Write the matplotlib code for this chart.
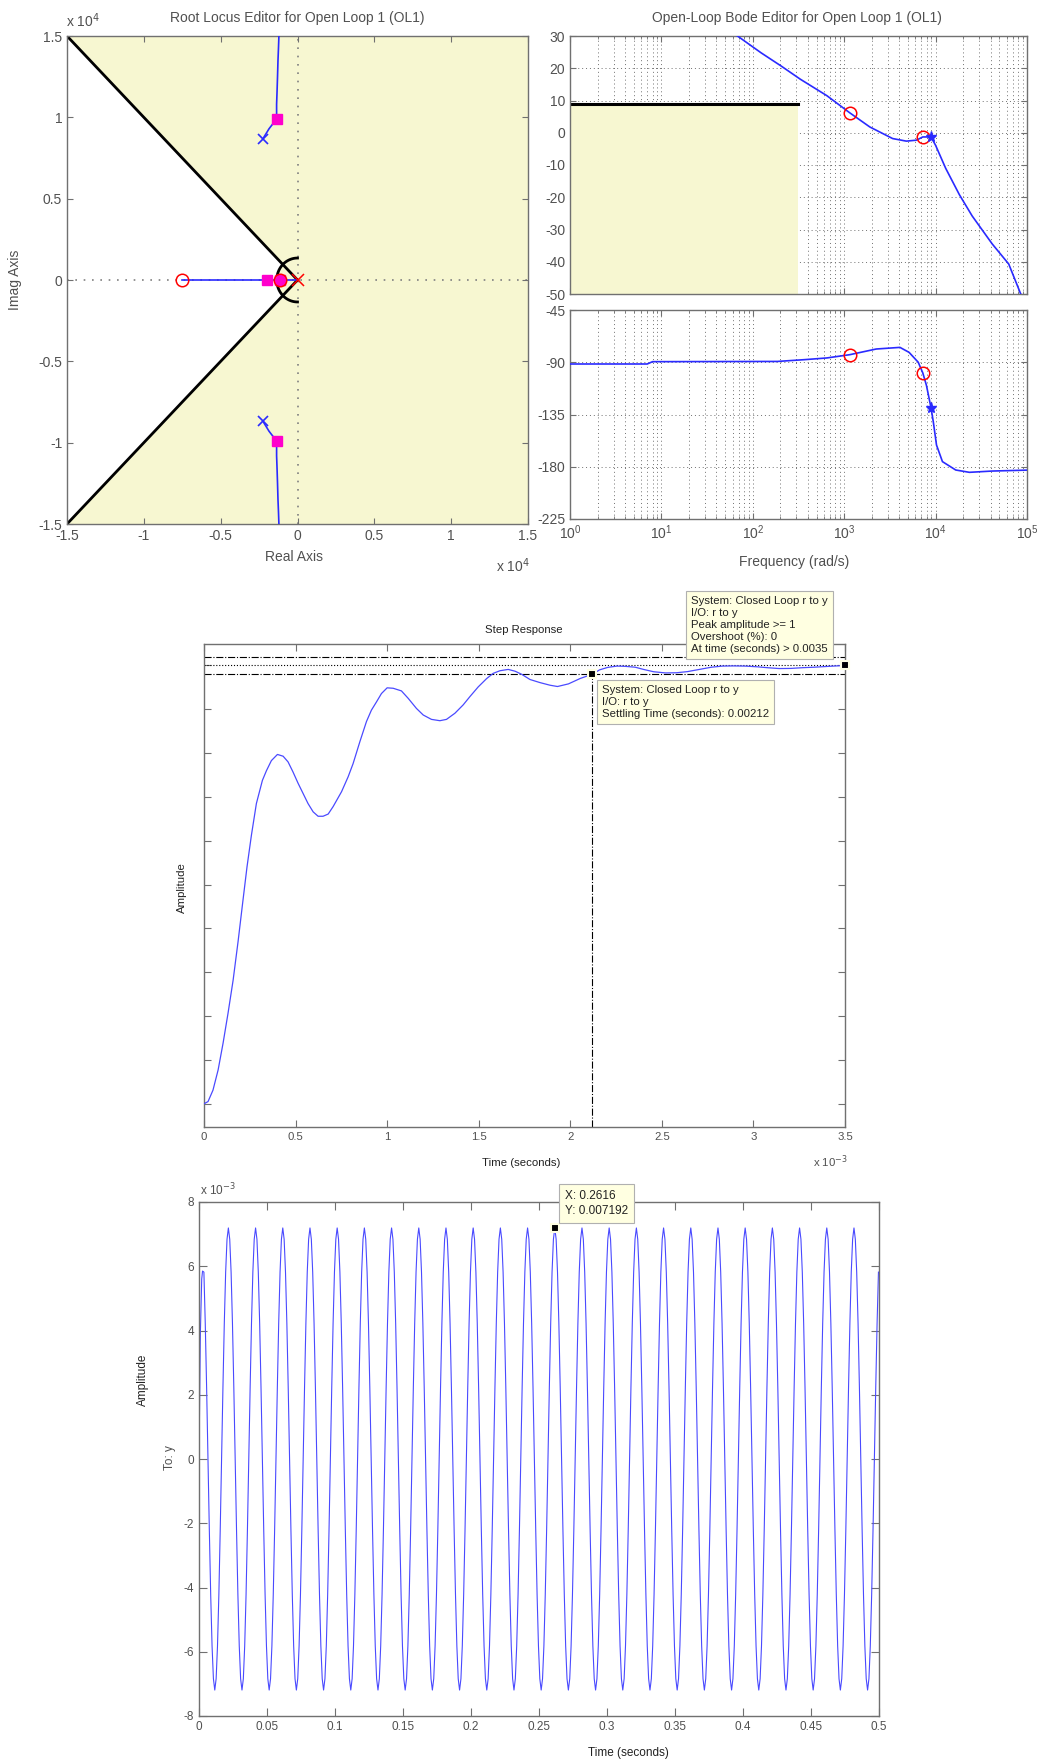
import matplotlib.pyplot as plt
import numpy as np
from matplotlib.patches import Polygon

# ---------------- data ----------------
# root locus (units of 1e4)
rl_branch_up_x = [-0.226, -0.185, -0.136, -0.136, -0.133, -0.130, -0.127, -0.124, -0.121]
rl_branch_up_y = [0.867, 0.930, 0.990, 1.080, 1.160, 1.250, 1.350, 1.420, 1.500]
rl_real_branch = [-0.75, 0.0]
rl_ol_zeros = [-0.75, -0.115]
rl_ol_pole_red = [0.0]
rl_plant_poles_x = [-0.226, -0.226]
rl_plant_poles_y = [0.867, -0.867]
rl_cl_poles_x = [-0.20, -0.115, -0.136, -0.136]
rl_cl_poles_y = [0.0, 0.0, 0.990, -0.990]
rl_damping_deg = 45.0
rl_wn_radius = 0.135
rl_ticks = [-1.5, -1, -0.5, 0, 0.5, 1, 1.5]
rl_ticklabels = ['-1.5', '-1', '-0.5', '0', '0.5', '1', '1.5']

# open loop bode
mag_w = [60, 68, 123, 204, 331, 646, 1148, 1905, 3388, 4786, 6166, 7244, 8913, 10000,
         12880, 18200, 25120, 41690, 63100, 85100, 90000]
mag_db = [31.0, 30.0, 24.8, 20.7, 16.6, 11.5, 6.2, 1.8, -1.8, -2.6, -2.3, -1.3, -1.3, -3.9,
          -11.0, -19.2, -25.8, -34.5, -40.7, -49.9, -51.0]
phase_w = [1, 7, 8, 186, 363, 646, 1148, 2239, 4074, 5129, 6457, 7244, 7943, 8913, 9441,
           10230, 11885, 16600, 23440, 41690, 100000]
phase_deg = [-91.5, -91.5, -89.5, -89.3, -87.8, -86.3, -83.5, -78.6, -77.2, -81.5, -90.0,
             -99.2, -110.0, -129.3, -141.4, -161.3, -175.6, -182.8, -184.8, -183.7, -182.9]
comp_zero_w = [1148, 7244]
comp_zero_db = [6.2, -1.3]
comp_zero_deg = [-83.5, -99.2]
cl_pole_w = [8913]
cl_pole_db = [-1.3]
cl_pole_deg = [-129.3]
mag_bound_w = [1, 312]
mag_bound_db = 9.0

# closed loop step response (time in ms)
step_t = [0, 0.022, 0.049, 0.077, 0.104, 0.131, 0.159, 0.186, 0.213, 0.235, 0.259, 0.286,
          0.319, 0.341, 0.368, 0.401, 0.432, 0.459, 0.486, 0.514, 0.541, 0.568, 0.596, 0.623,
          0.650, 0.678, 0.705, 0.751, 0.787, 0.814, 0.851, 0.887, 0.914, 0.942, 0.969, 1.000,
          1.033, 1.078, 1.115, 1.160, 1.197, 1.242, 1.288, 1.324, 1.370, 1.415, 1.452, 1.497,
          1.543, 1.579, 1.616, 1.661, 1.698, 1.734, 1.780, 1.834, 1.889, 1.93, 1.99, 2.055,
          2.12, 2.16, 2.205, 2.255, 2.30, 2.355, 2.40, 2.455, 2.52, 2.58, 2.64, 2.705, 2.77,
          2.83, 2.89, 2.955, 3.02, 3.08, 3.14, 3.205, 3.27, 3.33, 3.41, 3.5]
step_y = [0, 0.005, 0.031, 0.077, 0.138, 0.206, 0.282, 0.370, 0.465, 0.541, 0.613, 0.685,
          0.738, 0.760, 0.783, 0.797, 0.793, 0.780, 0.757, 0.731, 0.708, 0.685, 0.666, 0.656,
          0.656, 0.661, 0.678, 0.712, 0.746, 0.776, 0.826, 0.872, 0.898, 0.917, 0.936, 0.949,
          0.948, 0.942, 0.925, 0.902, 0.887, 0.877, 0.874, 0.877, 0.891, 0.910, 0.929, 0.951,
          0.970, 0.982, 0.988, 0.991, 0.987, 0.980, 0.968, 0.961, 0.955, 0.952, 0.958, 0.9705,
          0.98, 0.990, 0.9957, 0.9986, 0.998, 0.996, 0.991, 0.9857, 0.983, 0.9834, 0.986, 0.991,
          0.996, 0.9986, 0.999, 0.9986, 0.997, 0.9948, 0.993, 0.9933, 0.995, 0.996, 0.998, 1.0]
settling_time = 0.00212
settling_band = [0.98, 1.02]
peak_time = 0.0035
final_value = 1.0

# disturbance output To: y (units of 1e-3), 1 ms samples
sine_start_t = [0.0, 0.001, 0.002, 0.0026]
sine_start_y = [0.0, 3.9, 5.6, 5.85]
sine_cycle = [7.192, 6.840, 5.818, 4.227, 2.222, 0.0, -2.222, -4.227, -5.818, -6.840,
              -7.192, -6.840, -5.818, -4.227, -2.222, 0.0, 2.222, 4.227, 5.818, 6.840]
sine_first_crest = 0.0016
sine_dt = 0.001
tip_x = 0.2616
tip_y = 0.007192

# ---------------- figure ----------------
plt.rcParams['font.family'] = ['Liberation Sans', 'DejaVu Sans']
plt.rcParams['axes.unicode_minus'] = False
plt.rcParams['xtick.direction'] = 'in'
plt.rcParams['ytick.direction'] = 'in'

W, H = 1047, 1762
fig = plt.figure(figsize=(W / 100, H / 100), dpi=100)

YELLOW = '#f7f7d1'
SPINE = '#707070'
TXT = '#505050'
BLUE = '#2a2aff'
TIPBG = '#ffffe1'


def box(l, t, r, b):
    return [l / W, 1 - b / H, (r - l) / W, (b - t) / H]


def ftext(x, y, s, **kw):
    return fig.text(x / W, 1 - y / H, s, **kw)


def style(ax, size, length):
    for sp in ax.spines.values():
        sp.set_color(SPINE)
        sp.set_linewidth(1.0)
    ax.tick_params(which='both', top=True, right=True, colors=SPINE, labelcolor=TXT,
                   labelsize=size)
    ax.tick_params(which='major', length=length)
    ax.tick_params(which='minor', length=length * 0.6)


# ---- root locus ----
ax = fig.add_axes(box(67, 36, 528, 524))
ax.set_facecolor(YELLOW)
ang = np.radians(rl_damping_deg)
a = np.linspace(np.pi - ang, np.pi + ang, 40)
wedge = [(-1.5, 1.5)] + list(zip(rl_wn_radius * np.cos(a), rl_wn_radius * np.sin(a))) + [(-1.5, -1.5)]
ax.add_patch(Polygon(wedge, closed=True, fc='white', ec='none', zorder=0.5))
ax.plot([-1.5, 0], [1.5, 0], color='k', lw=2, zorder=2)
ax.plot([-1.5, 0], [-1.5, 0], color='k', lw=2, zorder=2)
arc = np.linspace(np.pi / 2, 3 * np.pi / 2, 60)
ax.plot(rl_wn_radius * np.cos(arc), rl_wn_radius * np.sin(arc), color='k', lw=2, zorder=2)
ax.axhline(0, color='#808080', ls=(0, (1, 4)), lw=1.2, zorder=1)
ax.axvline(0, color='#808080', ls=(0, (1, 4)), lw=1.2, zorder=1)
ax.plot(rl_real_branch, [0, 0], color=BLUE, lw=1.2, zorder=3)
ax.plot(rl_branch_up_x, rl_branch_up_y, color=BLUE, lw=1.2, zorder=3)
ax.plot(rl_branch_up_x, [-v for v in rl_branch_up_y], color=BLUE, lw=1.2, zorder=3)
ax.plot(rl_plant_poles_x, rl_plant_poles_y, 'x', color=BLUE, ms=7, mew=1.2, zorder=4)
ax.plot(rl_cl_poles_x, rl_cl_poles_y, 's', color='#ff00cc', ms=7, zorder=5)
ax.plot(rl_ol_zeros, [0, 0], 'o', mfc='none', mec='red', ms=9, mew=1.1, zorder=6)
ax.plot(rl_ol_pole_red, [0], 'x', color='red', ms=9, mew=1.1, zorder=6)
ax.set_xlim(-1.5, 1.5)
ax.set_ylim(-1.5, 1.5)
ax.set_xticks(rl_ticks, rl_ticklabels)
ax.set_yticks(rl_ticks, rl_ticklabels)
style(ax, 10, 4)
ax.set_zorder(1)
ftext(297, 18, 'Root Locus Editor for Open Loop 1 (OL1)', ha='center', va='center',
      fontsize=10, color=TXT)
ftext(66, 21, 'x 10$^{4}$', ha='left', va='center', fontsize=10, color=TXT)
ftext(496, 566, 'x 10$^{4}$', ha='left', va='center', fontsize=10, color=TXT)
ftext(15, 280, 'Imag Axis', ha='center', va='center', rotation=90, fontsize=10, color=TXT)
ftext(294, 557, 'Real Axis', ha='center', va='center', fontsize=10, color=TXT)

# ---- bode magnitude ----
axm = fig.add_axes(box(570, 36, 1027, 294))
axm.set_xscale('log')
axm.set_axisbelow(True)
axm.fill_between(mag_bound_w, -50, mag_bound_db, color=YELLOW, lw=0, zorder=1)
axm.plot(mag_bound_w, [mag_bound_db] * 2, color='k', lw=2.2, zorder=2)
axm.plot(mag_w, mag_db, color=BLUE, lw=1.2, zorder=3)
axm.plot(comp_zero_w, comp_zero_db, 'o', mfc='none', mec='red', ms=9, mew=1.1, zorder=4)
axm.plot(cl_pole_w, cl_pole_db, '*', color=BLUE, ms=8, zorder=4)
axm.set_xlim(1, 1e5)
axm.set_ylim(-50, 30)
axm.set_yticks(range(-50, 31, 10))
axm.xaxis.grid(True, which='both', color='#707070', ls=(0, (1, 3)), lw=0.7)
axm.yaxis.grid(True, which='major', color='#707070', ls=(0, (1, 3)), lw=0.7)
axm.tick_params(labelbottom=False)
style(axm, 10, 4)
ftext(797, 18, 'Open-Loop Bode Editor for Open Loop 1 (OL1)', ha='center', va='center',
      fontsize=10, color=TXT)

# ---- bode phase ----
axp = fig.add_axes(box(570, 310, 1027, 519))
axp.set_xscale('log')
axp.plot(phase_w, phase_deg, color=BLUE, lw=1.2, zorder=3)
axp.plot(comp_zero_w, comp_zero_deg, 'o', mfc='none', mec='red', ms=9, mew=1.1, zorder=4)
axp.plot(cl_pole_w, cl_pole_deg, '*', color=BLUE, ms=8, zorder=4)
axp.set_xlim(1, 1e5)
axp.set_ylim(-225, -45)
axp.set_yticks(range(-225, -44, 45))
axp.set_axisbelow(True)
axp.xaxis.grid(True, which='both', color='#707070', ls=(0, (1, 3)), lw=0.7)
axp.yaxis.grid(True, which='major', color='#707070', ls=(0, (1, 3)), lw=0.7)
style(axp, 10, 4)
ftext(794, 562, 'Frequency (rad/s)', ha='center', va='center', fontsize=10, color=TXT)

# ---- step response ----
axs = fig.add_axes(box(204, 644, 845, 1127))
axs.plot(step_t, step_y, color='#4a4aff', lw=0.9, zorder=3)
for lvl in settling_band:
    axs.axhline(lvl, color='k', ls='-.', lw=0.8, zorder=2)
axs.axhline(final_value, color='k', ls=':', lw=0.8, zorder=2)
axs.plot([settling_time * 1e3] * 2, [-0.053, settling_band[0]], color='k', ls='-.', lw=0.8)
axs.plot([settling_time * 1e3], [settling_band[0]], 's', mfc='k', mec=TIPBG, ms=6, mew=1.5,
         zorder=5)
axs.plot([peak_time * 1e3], [final_value], 's', mfc='k', mec=TIPBG, ms=6, mew=1.5,
         zorder=5, clip_on=False)
axs.set_xlim(0, 3.5)
axs.set_ylim(-0.053, 1.049)
axs.set_xticks(np.arange(0, 3.51, 0.5), ['0', '0.5', '1', '1.5', '2', '2.5', '3', '3.5'])
axs.set_yticks(np.arange(0, 1.01, 0.1))
axs.tick_params(labelleft=False)
style(axs, 8.2, 5)
ftext(524, 630, 'Step Response', ha='center', va='center', fontsize=8.2, color='#222222')
ftext(521, 1163, 'Time (seconds)', ha='center', va='center', fontsize=8.2, color='#222222')
ftext(813, 1162, 'x 10$^{-3}$', ha='left', va='center', fontsize=8.2, color=TXT)
ftext(182, 888, 'Amplitude', ha='center', va='center', rotation=90, fontsize=8.2,
      color='#222222')
tip = dict(boxstyle='square,pad=0.45', fc=TIPBG, ec='#b0b0b0', lw=0.8)
ftext(691, 596, 'System: Closed Loop r to y\nI/O: r to y\nPeak amplitude >= 1\n'
      'Overshoot (%): 0\nAt time (seconds) > ' + str(peak_time),
      ha='left', va='top', fontsize=8.2, color='#222222', linespacing=1.26, bbox=tip)
ftext(602, 685, 'System: Closed Loop r to y\nI/O: r to y\nSettling Time (seconds): '
      + str(settling_time),
      ha='left', va='top', fontsize=8.2, color='#222222', linespacing=1.26, bbox=tip)

# ---- disturbance response ----
n_steady = int(round((0.5 - sine_start_t[-1]) / sine_dt))
steady_t = sine_first_crest + 2 * sine_dt + sine_dt * np.arange(n_steady)
steady_y = np.tile(sine_cycle, n_steady // len(sine_cycle) + 2)[2:2 + n_steady]
sine_t = np.concatenate([sine_start_t, steady_t])
sine_y = np.concatenate([sine_start_y, steady_y])

axd = fig.add_axes(box(199, 1202, 879, 1716))
axd.plot(sine_t, sine_y, color='#4a4aff', lw=0.8)
axd.plot([tip_x], [tip_y * 1e3], 's', mfc='k', mec=TIPBG, ms=6, mew=1.5, zorder=5)
axd.set_xlim(0, 0.5)
axd.set_ylim(-8, 8)
axd.set_xticks(np.arange(0, 0.501, 0.05),
               ['0', '0.05', '0.1', '0.15', '0.2', '0.25', '0.3', '0.35', '0.4', '0.45', '0.5'])
axd.set_yticks(range(-8, 9, 2))
style(axd, 8.5, 6)
ftext(200, 1190, 'x 10$^{-3}$', ha='left', va='center', fontsize=8.5, color=TXT)
ftext(143, 1380, 'Amplitude', ha='center', va='center', rotation=90, fontsize=8.5,
      color='#222222')
ftext(170, 1458, 'To: y', ha='center', va='center', rotation=90, fontsize=8.5, color=TXT)
ftext(628, 1753, 'Time (seconds)', ha='center', va='center', fontsize=8.5, color='#222222')
ftext(565, 1190, 'X: ' + str(tip_x) + '\nY: ' + str(tip_y), ha='left', va='top',
      fontsize=8.5, color='#222222', linespacing=1.3,
      bbox=dict(boxstyle='square,pad=0.5', fc=TIPBG, ec='#b0b0b0', lw=0.8))

fig.savefig('out.png', dpi=100)
